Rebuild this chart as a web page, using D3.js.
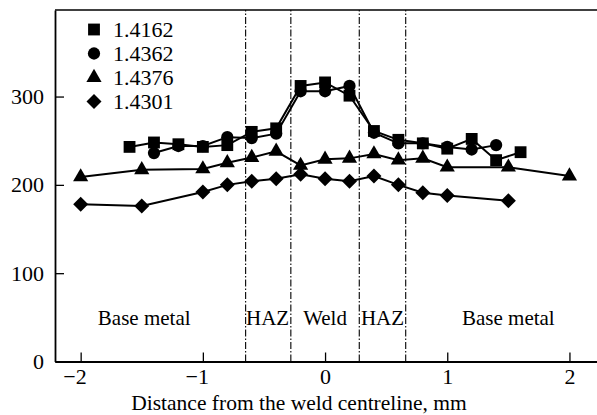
<!DOCTYPE html>
<html><head><meta charset="utf-8">
<script src="https://cdn.jsdelivr.net/npm/d3@7"></script>
<style>html,body{margin:0;padding:0;background:#fff;}svg{display:block;}text{font-family:"Liberation Serif","DejaVu Serif",serif;fill:#000;}</style>
</head><body>
<svg id="chart" width="597" height="415"></svg>
<script>
const xs1 = [-1.6,-1.4,-1.2,-1.0,-0.8,-0.6,-0.4,-0.2,0,0.2,0.4,0.6,0.8,1.0,1.2,1.4,1.6];
const s1416 = [243,248,246,243,245,260,264,312,316,301,261,251,247,241,252,228,237];
const xs2 = [-1.4,-1.2,-1.0,-0.8,-0.6,-0.4,-0.2,0,0.2,0.4,0.6,0.8,1.0,1.2,1.4];
const s1436 = [236,244,244,254,253,258,306,306,312,259,247,247,243,240,245];
const xs3 = [-2,-1.5,-1,-0.8,-0.6,-0.4,-0.2,0,0.2,0.4,0.6,0.8,1.0,1.5,2.0];
const s1437 = [209,217,218,225,231,238,222,229,230,235,228,230,220,220,210];
const xs4 = [-2,-1.5,-1,-0.8,-0.6,-0.4,-0.2,0,0.2,0.4,0.6,0.8,1.0,1.5];
const s1430 = [178,176,192,200,204,207,212,207,204,210,200,191,188,182];
const seriesNames = ["1.4162","1.4362","1.4376","1.4301"];
const xTicks = [-2,-1,0,1,2];
const yTicks = [0,100,200,300];
const zoneLines = [-0.65,-0.28,0.28,0.66];
const zoneLabels = [
  {t:"Base metal", x:-1.48}, {t:"HAZ", x:-0.47}, {t:"Weld", x:0.0},
  {t:"HAZ", x:0.47}, {t:"Base metal", x:1.5}
];

const svg = d3.select("#chart");
const L = 55, R = 600, T = 10, B = 361.5;
const x = d3.scaleLinear().domain([-2.21, 2.25]).range([L, R]);
const y = d3.scaleLinear().domain([0, 398]).range([B, T]);

// zone lines
svg.selectAll("line.zone").data(zoneLines).enter().append("line")
  .attr("x1", d=>x(d)).attr("x2", d=>x(d)).attr("y1", B).attr("y2", T)
  .attr("stroke","#000").attr("stroke-width",1.1).attr("stroke-dasharray","7,2,1.5,2");

// frame
svg.append("line").attr("x1",L).attr("x2",R).attr("y1",T).attr("y2",T).attr("stroke","#000").attr("stroke-width",1.6);

// axes
const xAxis = d3.axisBottom(x).tickValues(xTicks).tickSizeInner(-9).tickSizeOuter(0)
  .tickFormat(d => d < 0 ? "\u2212" + Math.abs(d) : String(d));
const gx = svg.append("g").attr("transform",`translate(0,${B})`).call(xAxis);
gx.select(".domain").attr("stroke-width",1.8);
gx.selectAll(".tick line").attr("stroke-width",1.3);
gx.selectAll(".tick text").attr("font-size",22).attr("font-family","Liberation Serif").attr("y",7)
  .attr("dx", d => d < 0 ? "-0.28em" : 0);

const yAxis = d3.axisLeft(y).tickValues(yTicks).tickSizeInner(-9).tickSizeOuter(0);
const gy = svg.append("g").attr("transform",`translate(${L},0)`).call(yAxis);
gy.select(".domain").attr("stroke-width",1.8);
gy.selectAll(".tick line").attr("stroke-width",1.3);
gy.selectAll(".tick text").attr("font-size",22).attr("font-family","Liberation Serif").attr("x",-11);

// axis title
svg.append("text").attr("x",299).attr("y",410).attr("text-anchor","middle").attr("font-size",21.5)
  .text("Distance from the weld centreline, mm");

// zone labels
svg.selectAll("text.zl").data(zoneLabels).enter().append("text")
  .attr("x", d=>x(d.x)).attr("y",325).attr("text-anchor","middle").attr("font-size",21).text(d=>d.t);

// symbols
const diamondPath = r => `M0,${-r}L${r},0L0,${r}L${-r},0Z`;
const symPaths = [
  d3.symbol().type(d3.symbolSquare).size(140)(),
  d3.symbol().type(d3.symbolCircle).size(118)(),
  d3.symbol().type(d3.symbolTriangle).size(100)(),
  diamondPath(7.5)
];

const series = [
  {xs:xs1, v:s1416}, {xs:xs2, v:s1436}, {xs:xs3, v:s1437}, {xs:xs4, v:s1430}
];
const line = d3.line().x(d=>x(d[0])).y(d=>y(d[1]));
series.forEach((s,i) => {
  const pts = s.xs.map((xv,j)=>[xv, s.v[j]]);
  svg.append("path").attr("d", line(pts)).attr("fill","none").attr("stroke","#000").attr("stroke-width",2);
});
series.forEach((s,i) => {
  const pts = s.xs.map((xv,j)=>[xv, s.v[j]]);
  svg.selectAll(null).data(pts).enter().append("path")
    .attr("d", symPaths[i]).attr("transform", d=>`translate(${x(d[0])},${y(d[1])})`).attr("fill","#000");
});

// legend
const lg = svg.append("g");
seriesNames.forEach((n,i) => {
  const yy = 29.5 + i*24;
  lg.append("path").attr("d", symPaths[i]).attr("transform",`translate(94,${yy})`).attr("fill","#000");
  lg.append("text").attr("x",113).attr("y",yy).attr("dy","0.34em").attr("font-size",22).text(n);
});
</script>
</body></html>
